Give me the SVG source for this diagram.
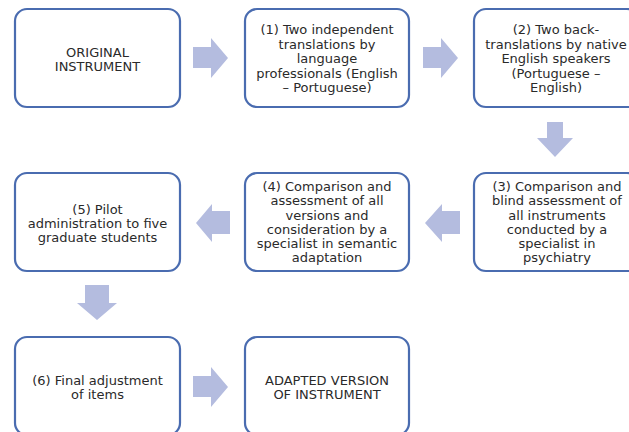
<svg xmlns="http://www.w3.org/2000/svg" width="629" height="432" viewBox="0 0 629 432">
<style>
.box{fill:#ffffff;stroke:#4a6cb0;stroke-width:2.2}
.t{font-family:"DejaVu Sans",Verdana,sans-serif;font-size:13px;fill:#2a2a2a;text-anchor:middle}
.arr{fill:#b4bcdf}
</style>
<rect width="629" height="432" fill="#ffffff"/>
<g id="n0"><rect class="box" x="15" y="9" width="165" height="98" rx="12"/>
<text class="t" x="97.5" y="56.5">ORIGINAL</text><text class="t" x="97.5" y="70.5">INSTRUMENT</text></g>
<g id="n1"><rect class="box" x="245" y="9" width="164" height="98" rx="12"/>
<text class="t" x="327" y="34">(1) Two independent</text>
<text class="t" x="327" y="48.6">translations by</text>
<text class="t" x="327" y="63.2">language</text>
<text class="t" x="327" y="77.8">professionals (English</text>
<text class="t" x="327" y="92.4">– Portuguese)</text></g>
<g id="n2"><rect class="box" x="474" y="9" width="165" height="98" rx="12"/>
<text class="t" x="556" y="34">(2) Two back-</text>
<text class="t" x="556" y="48.6">translations by native</text>
<text class="t" x="556" y="63.2">English speakers</text>
<text class="t" x="556" y="77.8">(Portuguese –</text>
<text class="t" x="556" y="92.4">English)</text></g>
<g id="n3"><rect class="box" x="474" y="173" width="165" height="98" rx="12"/>
<text class="t" x="557" y="191.2">(3) Comparison and</text>
<text class="t" x="557" y="205.4">blind assessment of</text>
<text class="t" x="557" y="219.6">all instruments</text>
<text class="t" x="557" y="233.8">conducted by a</text>
<text class="t" x="557" y="248">specialist in</text>
<text class="t" x="557" y="262.2">psychiatry</text></g>
<g id="n4"><rect class="box" x="245" y="173" width="164" height="98" rx="12"/>
<text class="t" x="327" y="191.2">(4) Comparison and</text>
<text class="t" x="327" y="205.4">assessment of all</text>
<text class="t" x="327" y="219.6">versions and</text>
<text class="t" x="327" y="233.8">consideration by a</text>
<text class="t" x="327" y="248">specialist in semantic</text>
<text class="t" x="327" y="262.2">adaptation</text></g>
<g id="n5"><rect class="box" x="15" y="173" width="165" height="98" rx="12"/>
<text class="t" x="97.5" y="213.7">(5) Pilot</text>
<text class="t" x="97.5" y="227.9">administration to five</text>
<text class="t" x="97.5" y="242.1">graduate students</text></g>
<g id="n6"><rect class="box" x="15" y="337" width="165" height="98" rx="12"/>
<text class="t" x="97.5" y="384.7">(6) Final adjustment</text>
<text class="t" x="97.5" y="398.5">of items</text></g>
<g id="n7"><rect class="box" x="245" y="337" width="164" height="98" rx="12"/>
<text class="t" x="327" y="384.7">ADAPTED VERSION</text>
<text class="t" x="327" y="398.5">OF INSTRUMENT</text></g>
<g id="connectors">
<polygon class="arr" points="193,47 211,47 211,38 228,58 211,78 211,68 193,68"/>
<polygon class="arr" points="423,47 441,47 441,38 458,58 441,78 441,68 423,68"/>
<polygon class="arr" points="547,122 563,122 563,138 573,138 555,157 537,138 547,138"/>
<polygon class="arr" points="460,211 442,211 442,204 425,223 442,242 442,234 460,234"/>
<polygon class="arr" points="230,211 212,211 212,204 196,223 212,242 212,234 230,234"/>
<polygon class="arr" points="85,285 109,285 109,303 117,303 97,320 77,303 85,303"/>
<polygon class="arr" points="193,376 211,376 211,367 228,387 211,407 211,397 193,397"/>
</g>
</svg>
